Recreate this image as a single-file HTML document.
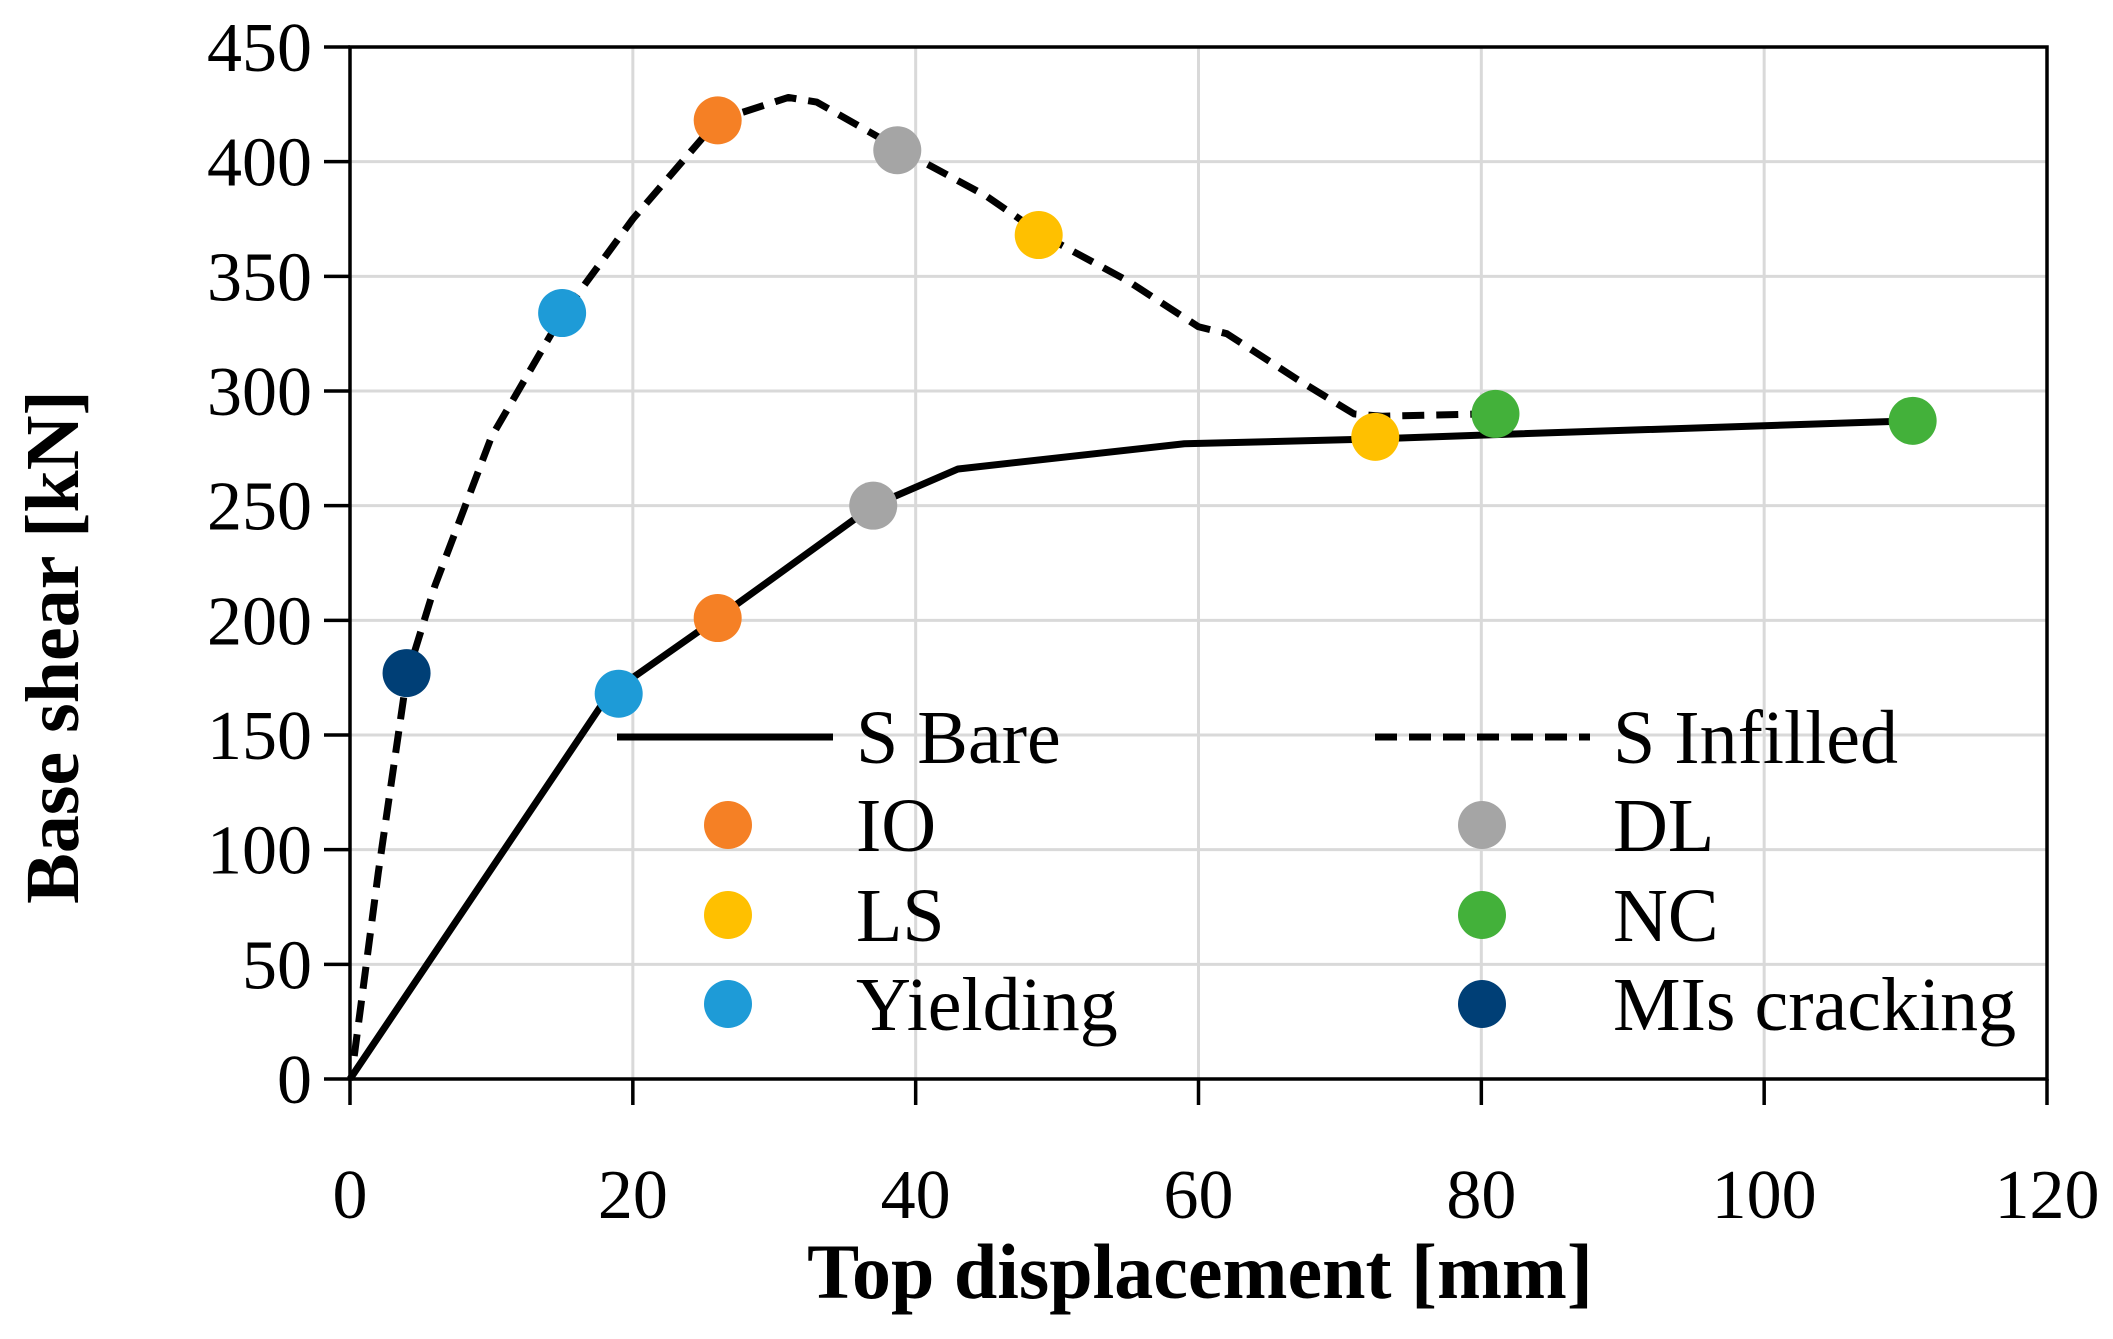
<!DOCTYPE html>
<html><head><meta charset="utf-8">
<style>
html,body{margin:0;padding:0;background:#fff;}
svg{display:block;font-family:"Liberation Serif",serif;}
</style></head>
<body>
<svg id="chart" width="2113" height="1339" viewBox="0 0 2113 1339" xmlns="http://www.w3.org/2000/svg">
<g id="grid"></g>
<g id="series"></g>
<g id="axes"></g>
<g id="legend"></g>
<text x="0" y="0" transform="translate(78,647) rotate(-90)" text-anchor="middle" font-size="76" font-weight="bold">Base shear [kN]</text>
<text x="1200" y="1298" text-anchor="middle" font-size="78" font-weight="bold">Top displacement [mm]</text>
</svg>
<script>
const xTicks = [0,20,40,60,80,100,120];
const yTicks = [0,50,100,150,200,250,300,350,400,450];
const bareX = [0,18,20,26,37,43,59,72,81,110.5];
const bareY = [0,165,175,201,250,266,277,279,281,287];
const infX = [0.3,2,4,6,10,15,20,26,31,33,39,45,49,55,60,62,67,71,73,80];
const infY = [10,90,175,215,280,333,375,418,428,426,405,385,368,348,328,325,305,290,289,290];
const markerNames = ['io','dl','ls','nc','yielding','mis-cracking'];
const markerColors = ['#F58025','#A5A5A5','#FFC000','#43B13A','#1E9BD7','#003F76'];
const markerLabels = ['IO','DL','LS','NC','Yielding','MIs cracking'];
const pointX = [26,37,72.5,110.5,19, 26,38.7,48.7,81,15,4];
const pointY = [201,250,280,287,168, 418,405,368,290,334,177];
const pointCat = [0,1,2,3,4, 0,1,2,3,4,5];

const X0=350,X1=2047,Y0=1079,Y1=47;
const sx=v=>X0+(v-0)/(120-0)*(X1-X0);
const sy=v=>Y0-(v-0)/(450-0)*(Y0-Y1);
const NS='http://www.w3.org/2000/svg';
function mk(tag,attrs,parent){const e=document.createElementNS(NS,tag);for(const k in attrs)e.setAttribute(k,attrs[k]);parent.appendChild(e);return e;}
const grid=document.getElementById('grid'),axes=document.getElementById('axes'),series=document.getElementById('series'),legend=document.getElementById('legend');

xTicks.forEach(t=>{
  if(t>0){const g=mk('line',{x1:sx(t),x2:sx(t),y1:Y1,y2:Y0,stroke:'#d9d9d9','stroke-width':3},grid);
  
  }
  const tk=mk('line',{x1:sx(t),x2:sx(t),y1:Y0,y2:Y0+26,stroke:'#000','stroke-width':3.5},axes);
  
  
  const lb=mk('text',{x:sx(t),y:Y0+139,'text-anchor':'middle','font-size':70},axes);
  lb.textContent=t;
  
  
});
yTicks.forEach(t=>{
  if(t>0){const g=mk('line',{x1:X0,x2:X1,y1:sy(t),y2:sy(t),stroke:'#d9d9d9','stroke-width':3},grid);
  
  }
  const tk=mk('line',{x1:X0-26,x2:X0,y1:sy(t),y2:sy(t),stroke:'#000','stroke-width':3.5},axes);
  
  
  const lb=mk('text',{x:X0-38,y:sy(t)+24,'text-anchor':'end','font-size':70},axes);
  lb.textContent=t;
  
  
});
const frame=mk('rect',{x:X0,y:Y1,width:X1-X0,height:Y0-Y1,fill:'none',stroke:'#000','stroke-width':3.5},axes);



const bare=mk('polyline',{points:bareX.map((x,i)=>sx(x)+','+sy(bareY[i])).join(' '),fill:'none',stroke:'#000','stroke-width':7,'stroke-linejoin':'round'},series);


const inf=mk('polyline',{points:infX.map((x,i)=>sx(x)+','+sy(infY[i])).join(' '),fill:'none',stroke:'#000','stroke-width':7,'stroke-dasharray':'22 12','stroke-linejoin':'round'},series);


pointX.forEach((x,i)=>{
  const c=mk('circle',{cx:sx(x),cy:sy(pointY[i]),r:24,fill:markerColors[pointCat[i]]},series);
  
  
});

const l1=mk('line',{x1:617,x2:833,y1:737,y2:737,stroke:'#000','stroke-width':7},legend);


const t1=mk('text',{x:856,y:763,'font-size':76},legend);t1.textContent='S Bare';


const l2=mk('line',{x1:1375,x2:1590,y1:737,y2:737,stroke:'#000','stroke-width':7,'stroke-dasharray':'22 12'},legend);


const t2=mk('text',{x:1613,y:763,'font-size':76},legend);t2.textContent='S Infilled';


const rowsY=[825,915,1004];
markerLabels.forEach((lab,i)=>{
  const col=i%2,row=Math.floor(i/2);
  const cx=col?1482:728, tx=col?1613:856;
  const c=mk('circle',{cx:cx,cy:rowsY[row],r:24,fill:markerColors[i]},legend);
  
  
  const t=mk('text',{x:tx,y:rowsY[row]+26,'font-size':76},legend);t.textContent=lab;
  
  
});
</script>
</body></html>
